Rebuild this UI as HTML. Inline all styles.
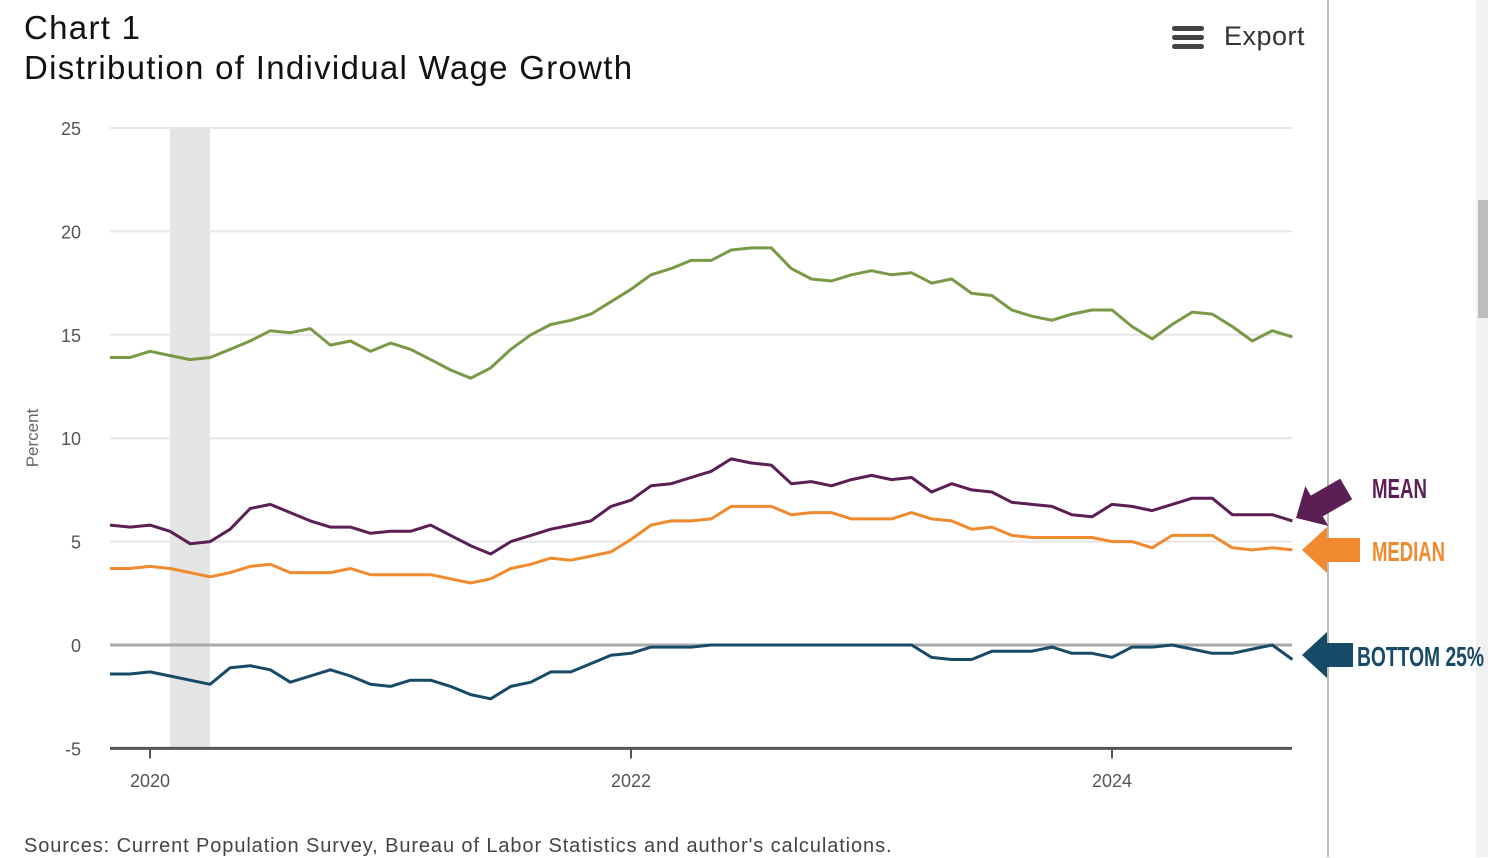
<!DOCTYPE html>
<html><head><meta charset="utf-8">
<style>
body{margin:0;width:1488px;height:857px;overflow:hidden;background:#fff;font-family:"Liberation Sans",sans-serif;position:relative}
.t{position:absolute;left:24px;color:#111;font-size:33px;letter-spacing:1.3px}
</style></head><body>
<div class="t" style="top:9px">Chart 1</div>
<div class="t" style="top:49px">Distribution of Individual Wage Growth</div>
<div style="position:absolute;left:1170px;top:20px;font-size:27px;color:#333;letter-spacing:0.5px">
<svg width="36" height="28" style="vertical-align:middle"><rect x="2" y="3" width="32" height="5" rx="2.5" fill="#444"/><rect x="2" y="12" width="32" height="5" rx="2.5" fill="#444"/><rect x="2" y="21" width="32" height="5" rx="2.5" fill="#444"/></svg>
<span style="margin-left:10px;vertical-align:middle">Export</span></div>
<div style="position:absolute;left:24px;top:835px;font-size:20px;letter-spacing:0.9px;color:#444">Sources: Current Population Survey, Bureau of Labor Statistics and author's calculations.</div>
<div style="position:absolute;left:1327px;top:0;width:2px;height:857px;background:#bbb"></div>
<div style="position:absolute;left:1476px;top:0;width:12px;height:857px;background:#f1f1f1"></div>
<div style="position:absolute;left:1478px;top:200px;width:10px;height:118px;background:#bdbdbd"></div>
<svg id="c" width="1488" height="857" style="position:absolute;left:0;top:0"></svg>
<script>
const yTicks=[25,20,15,10,5,0,-5];
const xTickLabels=["2020","2022","2024"];
const xTickYears=[2020,2022,2024];
const startYear=2019+10/12;
const top90=[13.9,13.9,14.2,14.0,13.8,13.9,14.3,14.7,15.2,15.1,15.3,14.5,14.7,14.2,14.6,14.3,13.8,13.3,12.9,13.4,14.3,15.0,15.5,15.7,16.0,16.6,17.2,17.9,18.2,18.6,18.6,19.1,19.2,19.2,18.2,17.7,17.6,17.9,18.1,17.9,18.0,17.5,17.7,17.0,16.9,16.2,15.9,15.7,16.0,16.2,16.2,15.4,14.8,15.5,16.1,16.0,15.4,14.7,15.2,14.9];
const meanS=[5.8,5.7,5.8,5.5,4.9,5.0,5.6,6.6,6.8,6.4,6.0,5.7,5.7,5.4,5.5,5.5,5.8,5.3,4.8,4.4,5.0,5.3,5.6,5.8,6.0,6.7,7.0,7.7,7.8,8.1,8.4,9.0,8.8,8.7,7.8,7.9,7.7,8.0,8.2,8.0,8.1,7.4,7.8,7.5,7.4,6.9,6.8,6.7,6.3,6.2,6.8,6.7,6.5,6.8,7.1,7.1,6.3,6.3,6.3,6.0];
const medianS=[3.7,3.7,3.8,3.7,3.5,3.3,3.5,3.8,3.9,3.5,3.5,3.5,3.7,3.4,3.4,3.4,3.4,3.2,3.0,3.2,3.7,3.9,4.2,4.1,4.3,4.5,5.1,5.8,6.0,6.0,6.1,6.7,6.7,6.7,6.3,6.4,6.4,6.1,6.1,6.1,6.4,6.1,6.0,5.6,5.7,5.3,5.2,5.2,5.2,5.2,5.0,5.0,4.7,5.3,5.3,5.3,4.7,4.6,4.7,4.6];
const bottomS=[-1.4,-1.4,-1.3,-1.5,-1.7,-1.9,-1.1,-1.0,-1.2,-1.8,-1.5,-1.2,-1.5,-1.9,-2.0,-1.7,-1.7,-2.0,-2.4,-2.6,-2.0,-1.8,-1.3,-1.3,-0.9,-0.5,-0.4,-0.1,-0.1,-0.1,0,0,0,0,0,0,0,0,0,0,0,-0.6,-0.7,-0.7,-0.3,-0.3,-0.3,-0.1,-0.4,-0.4,-0.6,-0.1,-0.1,0,-0.2,-0.4,-0.4,-0.2,0,-0.7];
const recession=[2020+1/12,2020+3/12];
const NS="http://www.w3.org/2000/svg";
const svg=document.getElementById('c');
const X0=110,X1=1292;
function xs(yr){return 150+(yr-2020)*240.5;}
function ys(v){return 645-v*20.68;}
function mk(tag,attrs,parent){const e=document.createElementNS(NS,tag);for(const k in attrs)e.setAttribute(k,attrs[k]);(parent||svg).appendChild(e);return e;}
const rec=mk('rect',{x:xs(recession[0]),y:ys(25),width:xs(recession[1])-xs(recession[0]),height:ys(-5)-ys(25),fill:'#e4e4e4'});


yTicks.forEach(v=>{
  const g=mk('line',{x1:X0,x2:X1,y1:ys(v),y2:ys(v),stroke:v===-5?'#555':(v===0?'#aaa':'#e6e6e6'),'stroke-width':v===-5?3:(v===0?3:2)});
  
  
  const t=mk('text',{x:81,y:ys(v)+7,'text-anchor':'end','font-size':18,fill:'#555','font-family':'Liberation Sans'});
  t.textContent=v;
  
  
});
xTickYears.forEach((yr,i)=>{
  const l=mk('line',{x1:xs(yr),x2:xs(yr),y1:ys(-5),y2:ys(-5)+10,stroke:'#555','stroke-width':2});
  
  
  const t=mk('text',{x:xs(yr),y:787,'text-anchor':'middle','font-size':18,fill:'#555','font-family':'Liberation Sans'});
  t.textContent=xTickLabels[i];
  
  
});
const yt=mk('text',{x:0,y:0,'font-size':17,fill:'#666','text-anchor':'middle',transform:'translate(38,438) rotate(-90)','font-family':'Liberation Sans'});
yt.textContent='Percent';


function line(arr,color,name){
  const d=arr.map((v,i)=>(i?'L':'M')+xs(startYear+i/12).toFixed(1)+','+ys(v).toFixed(1)).join('');
  const p=mk('path',{d:d,fill:'none',stroke:color,'stroke-width':3,'stroke-linejoin':'round'});
  
  
}
line(top90,'#789a47','line-top');
line(meanS,'#5b1e55','line-mean');
line(medianS,'#f08a2e','line-median');
line(bottomS,'#174a67','line-bottom-25');
const a1=mk('polygon',{points:'0,0 24,-23 24,-12 58,-12 58,12 24,12 24,23',fill:'#5b1e55',transform:'translate(1296,518) rotate(-30)'});


const a2=mk('polygon',{points:'1302,550 1327,527 1327,538 1360,538 1360,562 1327,562 1327,573',fill:'#f08a2e'});


const a3=mk('polygon',{points:'1302,655 1327,632 1327,643 1353,643 1353,667 1327,667 1327,678',fill:'#174a67'});


[['MEAN',1372,498,55,'#5b1e55','mean-label'],['MEDIAN',1372,561,73,'#f08a2e','median-label'],['BOTTOM 25%',1357,666,127,'#174a67','bottom-25-label']].forEach(a=>{
  const t=mk('text',{x:a[1],y:a[2],'font-size':28,'font-weight':'bold',fill:a[4],textLength:a[3],lengthAdjust:'spacingAndGlyphs','font-family':'Liberation Sans Narrow, Liberation Sans'});
  t.textContent=a[0];
  
  
});
</script>
</body></html>
